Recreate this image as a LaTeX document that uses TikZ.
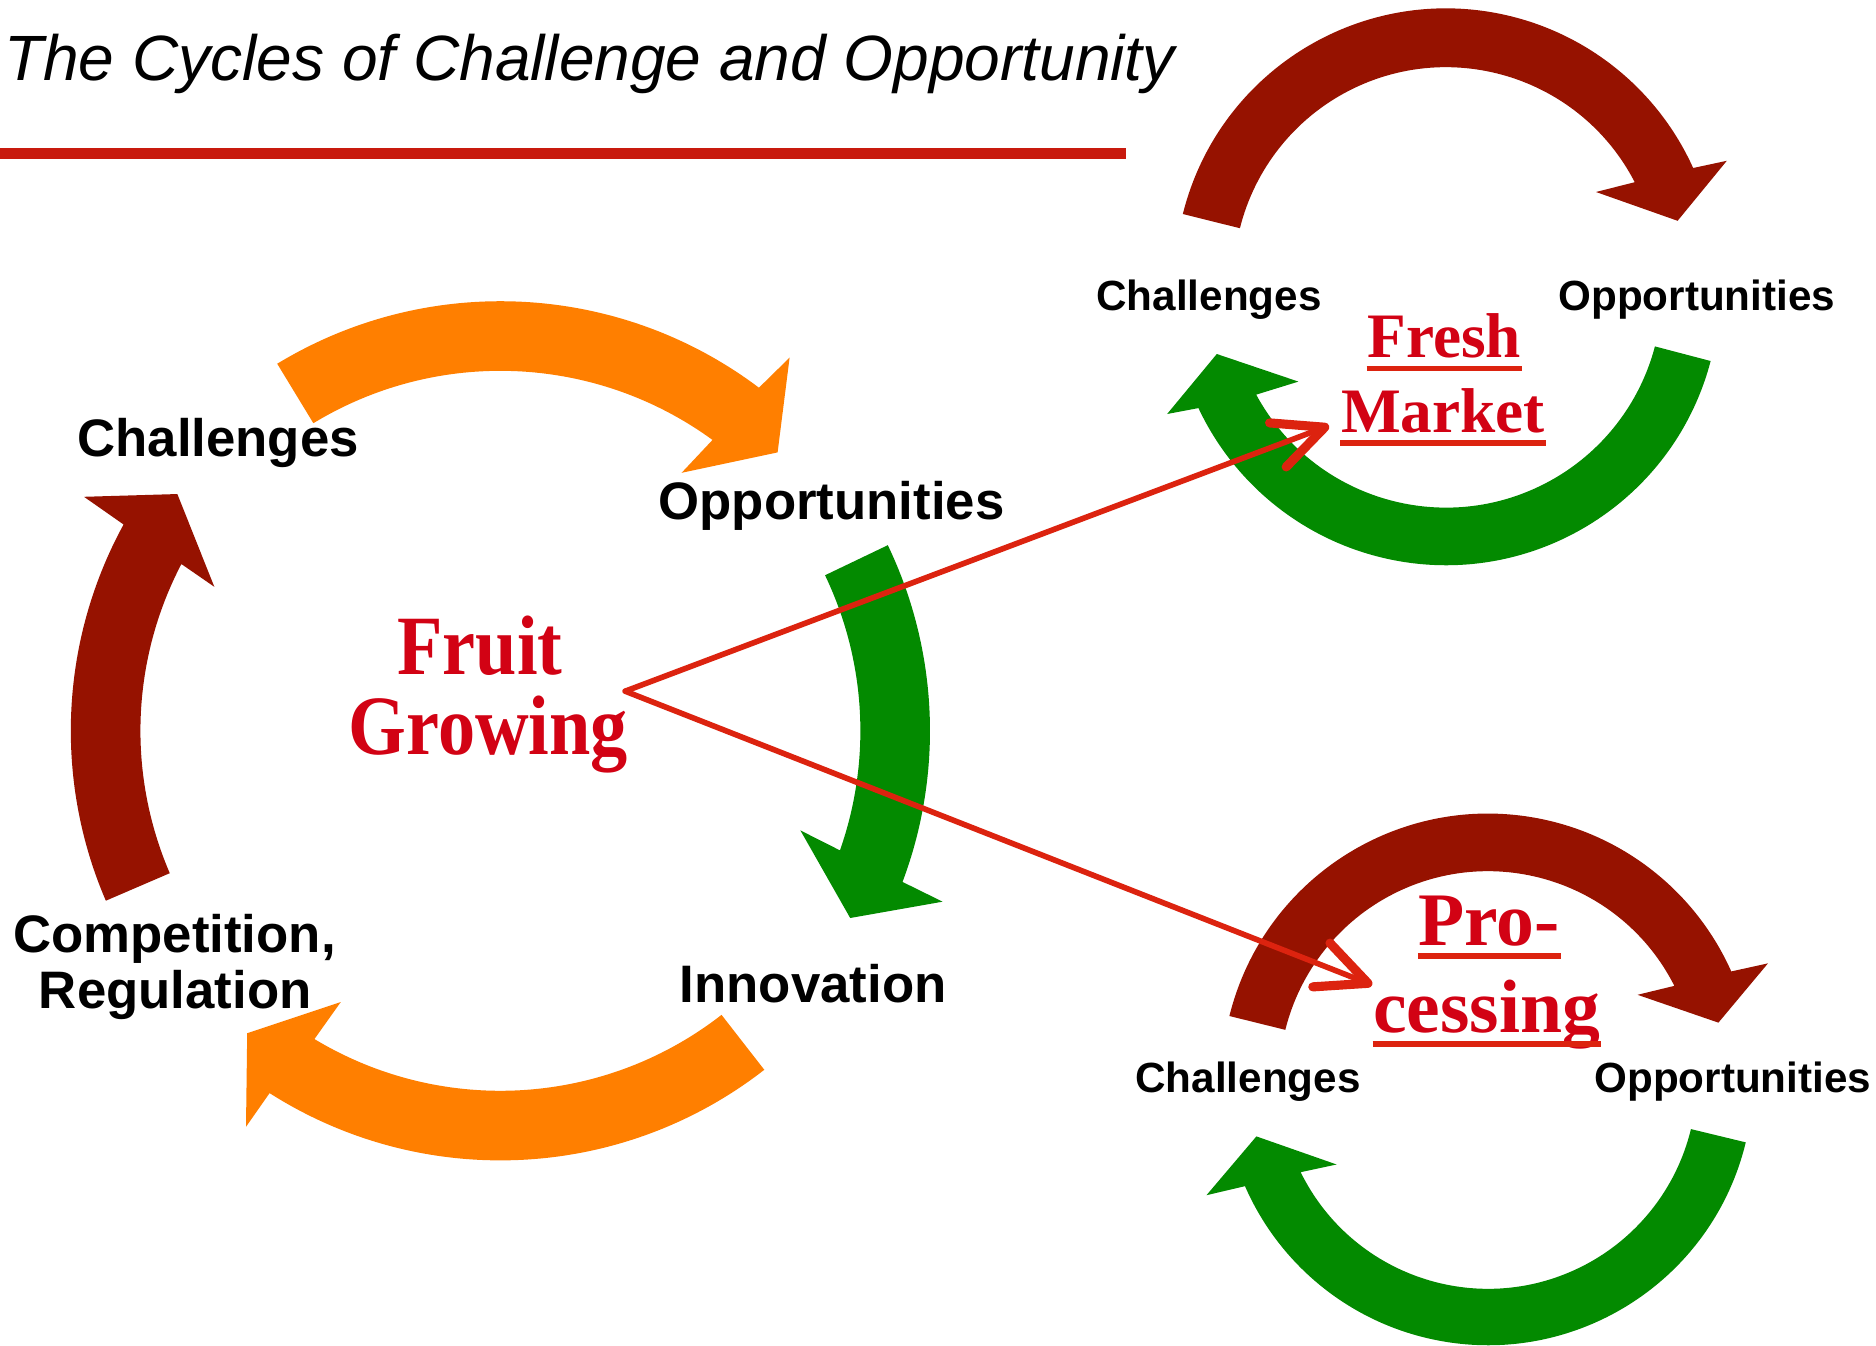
\documentclass[tikz,border=0pt]{standalone}
\usepackage{fontspec}
\setmainfont{Liberation Serif}
\setsansfont{Liberation Sans}
\newfontfamily\fruitfont[FakeStretch=0.88]{Liberation Serif}
\usetikzlibrary{calc,arrows.meta}
\definecolor{titleline}{RGB}{200,26,14}
\definecolor{darkredC}{RGB}{150,18,0}
\definecolor{orangeC}{RGB}{255,127,0}
\definecolor{greenC}{RGB}{3,138,0}
\definecolor{textred}{RGB}{210,2,20}
\definecolor{linkred}{RGB}{220,35,15}
\begin{document}
\begin{tikzpicture}[x=0.012cm,y=0.012cm,
  titletext/.style={font=\sffamily\itshape\fontsize{18.2}{20}\selectfont, inner sep=0pt, anchor=base west},
  biglabel/.style={font=\sffamily\bfseries\fontsize{15}{18}\selectfont, inner sep=0pt, anchor=base},
  smalllabel/.style={font=\sffamily\bfseries\fontsize{12}{14}\selectfont, inner sep=0pt, anchor=base},
  fruitlabel/.style={text=textred, font=\fruitfont\bfseries\fontsize{24}{26}\selectfont, inner sep=0pt, anchor=base},
  freshlabel/.style={text=textred, font=\rmfamily\bfseries\fontsize{18}{20}\selectfont, inner sep=0pt, anchor=base},
  proclabel/.style={text=textred, font=\rmfamily\bfseries\fontsize{21.5}{24}\selectfont, inner sep=0pt, anchor=base},
  uline/.style={draw=linkred, line width=1.6pt},
  link/.style={draw=linkred, line width=1.6pt, line cap=round,
    -{Straight Barb[length=0.5cm,width=0.47cm,line width=2.6pt,round]}}
]
\useasboundingbox (0,0) rectangle (1563.33,-1121.67);
\fill[white] (0,0) rectangle (1563.33,-1121.67);

% title
\node[titletext] (title) at (3,-67.5) {The Cycles of Challenge and Opportunity};
\fill[titleline] (0,-123.6) rectangle (938,-132.8);

% ---- main cycle (centre 417,609) ----
\coordinate (c1) at (417,-609);
\fill[orangeC] ($(c1)+(121.3:358)$) arc[start angle=121.3,end angle=53.0,radius=358]
  -- (658,-298) -- (648,-377) -- (568,-394)
  -- ($(c1)+(53.9:300)$) arc[start angle=53.9,end angle=121.3,radius=300] -- cycle;
\fill[greenC] ($(c1)+(25.6:358)$) arc[start angle=25.6,end angle=-20.6,radius=358]
  -- (785.5,-751.4) -- (708.5,-765) -- (667,-692)
  -- ($(c1)+(-19.4:300)$) arc[start angle=-19.4,end angle=25.6,radius=300] -- cycle;
\fill[orangeC] ($(c1)+(-52.1:358)$) arc[start angle=-52.1,end angle=-122.5,radius=358]
  -- (205,-939) -- (206,-861) -- (284,-835)
  -- ($(c1)+(-121.1:300)$) arc[start angle=-121.1,end angle=-52.1,radius=300] -- cycle;
\fill[darkredC] ($(c1)+(203.3:358)$) arc[start angle=203.3,end angle=151.3,radius=358]
  -- (70,-414) -- (147.8,-411.7) -- (178.6,-489)
  -- ($(c1)+(152.4:300)$) arc[start angle=152.4,end angle=203.3,radius=300] -- cycle;

% ---- fresh market cycle ----
\coordinate (c2) at (1205,-233);
\coordinate (c3) at (1205,-243);
\fill[darkredC] ($(c2)+(166:226)$) arc[start angle=166,end angle=24.3,radius=226]
  -- (1439,-134) -- (1398,-184) -- (1330,-160)
  -- ($(c2)+(27.3:177)$) arc[start angle=27.3,end angle=166,radius=177] -- cycle;
\fill[greenC] ($(c3)+(-14.7:228)$) arc[start angle=-14.7,end angle=-154.8,radius=228]
  -- (972.6,-345) -- (1014,-295) -- (1082,-318)
  -- ($(c3)+(-151.5:180)$) arc[start angle=-151.5,end angle=-14.7,radius=180] -- cycle;

% ---- processing cycle ----
\coordinate (c4) at (1240,-900);
\fill[darkredC] ($(c4)+(166.1:222)$) arc[start angle=166.1,end angle=24.05,radius=222]
  -- (1473.3,-802.8) -- (1432,-852.2) -- (1364.6,-829)
  -- ($(c4)+(26.8:174)$) arc[start angle=26.8,end angle=166.1,radius=174] -- cycle;
\fill[greenC] ($(c4)+(-13.6:221)$) arc[start angle=-13.6,end angle=-156.4,radius=221]
  -- (1005.4,-996) -- (1047,-947) -- (1113.8,-970.4)
  -- ($(c4)+(-153.8:174)$) arc[start angle=-153.8,end angle=-13.6,radius=174] -- cycle;

% ---- labels ----
\node[biglabel] (ch1) at (181.8,-380.6) {Challenges};
\node[biglabel] (op1) at (693,-433.3) {Opportunities};
\node[biglabel] (comp) at (145.4,-793.8) {Competition,};
\node[biglabel] (reg) at (146,-840) {Regulation};
\node[biglabel] (inno) at (677.6,-835) {Innovation};

\node[smalllabel] (ch2) at (1007.5,-259) {Challenges};
\node[smalllabel] (op2) at (1414,-259) {Opportunities};
\node[smalllabel] (ch3) at (1040,-910) {Challenges};
\node[smalllabel] (op3) at (1444,-910) {Opportunities};

\node[fruitlabel] (fruit) at (400,-561.7) {Fruit};
\node[fruitlabel] (growing) at (407,-629) {Growing};

\node[freshlabel] (fresh) at (1203.5,-298) {Fresh};
\node[freshlabel] (market) at (1202.5,-360.4) {Market};
\node[proclabel] (pro) at (1241,-787.7) {Pro-};
\node[proclabel] (cessing) at (1239,-860.6) {cessing};

\draw[uline] ([yshift=-0.108cm]fresh.base west) -- ([yshift=-0.108cm]fresh.base east);
\draw[uline] ([yshift=-0.106cm]market.base west) -- ([yshift=-0.106cm]market.base east);
\draw[uline] ([yshift=-0.108cm]pro.base west) -- ([yshift=-0.108cm]pro.base east);
\draw[uline] ([yshift=-0.113cm]cessing.base west) -- ([yshift=-0.113cm]cessing.base east);

% ---- connectors ----
\coordinate (fgapex) at (521,-576);
\coordinate (fmtip) at (1107.5,-354.7);
\coordinate (prtip) at (1143.5,-820.8);
\draw[link] (fgapex) -- (fmtip);
\draw[link] (fgapex) -- (prtip);
\end{tikzpicture}
\end{document}
